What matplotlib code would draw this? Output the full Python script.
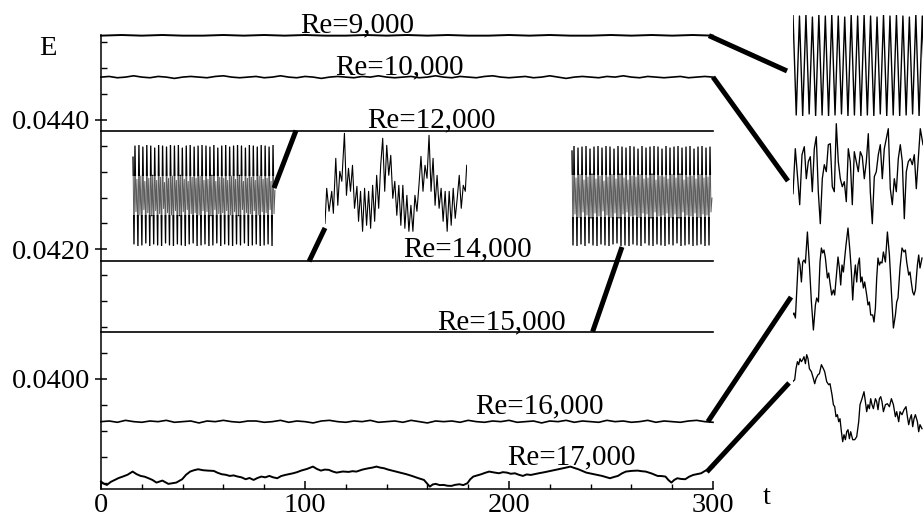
import numpy as np
import matplotlib
matplotlib.use("Agg")
import matplotlib.pyplot as plt
from matplotlib.patches import ConnectionPatch, Rectangle
from matplotlib.ticker import MultipleLocator, FormatStrFormatter

plt.rcParams['font.family'] = ['Liberation Serif', 'DejaVu Serif']

# ---------------- main time series (E vs t) ----------------
t_re9 = np.arange(0, 301, 10)
E_re9 = [0.04530, 0.04531, 0.04530, 0.04531, 0.04530, 0.04530, 0.04531, 0.04530, 0.04531, 0.04530,
         0.04531, 0.04530, 0.04530, 0.04531, 0.04530, 0.04531, 0.04530, 0.04531, 0.04530, 0.04530,
         0.04531, 0.04530, 0.04531, 0.04530, 0.04530, 0.04531, 0.04530, 0.04531, 0.04530, 0.04531, 0.04530]

t_re10 = np.arange(0, 301, 4)
E_re10 = [0.04466, 0.04467, 0.04465, 0.04466, 0.04468, 0.04466, 0.04465, 0.04467, 0.04466, 0.04464,
          0.04466, 0.04467, 0.04466, 0.04465, 0.04467, 0.04468, 0.04466, 0.04465, 0.04466, 0.04467,
          0.04465, 0.04466, 0.04468, 0.04466, 0.04465, 0.04467, 0.04466, 0.04464, 0.04466, 0.04467,
          0.04466, 0.04465, 0.04467, 0.04466, 0.04468, 0.04466, 0.04465, 0.04466, 0.04467, 0.04465,
          0.04466, 0.04468, 0.04466, 0.04465, 0.04467, 0.04466, 0.04465, 0.04467, 0.04468, 0.04466,
          0.04465, 0.04466, 0.04467, 0.04465, 0.04466, 0.04468, 0.04466, 0.04464, 0.04466, 0.04467,
          0.04466, 0.04465, 0.04467, 0.04466, 0.04468, 0.04466, 0.04465, 0.04467, 0.04466, 0.04465,
          0.04466, 0.04467, 0.04465, 0.04466, 0.04467, 0.04466]

t_flat = [0, 50, 100, 150, 200, 250, 300]
E_re12 = [0.043835, 0.043835, 0.043835, 0.043835, 0.043835, 0.043835, 0.043835]
E_re14 = [0.041815, 0.041815, 0.041815, 0.041815, 0.041815, 0.041815, 0.041815]
E_re15 = [0.040730, 0.040730, 0.040730, 0.040730, 0.040730, 0.040730, 0.040730]

t_re16 = np.arange(0, 301, 4)
E_re16 = [0.03934, 0.03935, 0.03933, 0.03936, 0.03934, 0.03933, 0.03935, 0.03934, 0.03936, 0.03933,
          0.03934, 0.03935, 0.03932, 0.03935, 0.03934, 0.03936, 0.03934, 0.03933, 0.03935, 0.03935,
          0.03933, 0.03934, 0.03936, 0.03933, 0.03935, 0.03934, 0.03932, 0.03935, 0.03936, 0.03934,
          0.03933, 0.03935, 0.03934, 0.03936, 0.03933, 0.03934, 0.03935, 0.03933, 0.03936, 0.03934,
          0.03932, 0.03935, 0.03934, 0.03935, 0.03933, 0.03936, 0.03934, 0.03933, 0.03935, 0.03934,
          0.03936, 0.03933, 0.03934, 0.03935, 0.03932, 0.03935, 0.03934, 0.03936, 0.03933, 0.03935,
          0.03934, 0.03933, 0.03936, 0.03934, 0.03935, 0.03933, 0.03934, 0.03936, 0.03933, 0.03935,
          0.03934, 0.03933, 0.03935, 0.03936, 0.03934, 0.03933]

t_re17 = [0, 1.5, 2.9, 4.8, 6.8, 8.7, 10.7, 13.0, 15.5, 17.4, 19.4, 21.4, 23.3, 25.2, 27.2, 30.1, 33.0,
          36.9, 39.8, 41.7, 43.7, 45.6, 47.6, 50.0, 52.4, 55.3, 57.2, 59.2, 61.1, 63.1, 65.0, 67.0, 68.9,
          70.9, 72.8, 74.8, 76.7, 78.6, 80.5, 82.5, 84.4, 86.4, 88.3, 90.3, 92.2, 94.2, 96.1, 98.1, 101.0,
          103.9, 105.8, 107.8, 109.7, 111.7, 113.6, 115.5, 118.5, 121.4, 123.3, 125.2, 128.2, 131.1, 133.0,
          135.0, 136.9, 138.8, 140.7, 142.7, 144.6, 146.6, 149.5, 152.4, 155.3, 158.3, 159.7, 161.2,
          162.6, 164.1, 166.0, 168.0, 169.9, 171.8, 173.7, 175.7, 177.6, 179.6, 181.0, 182.5, 184.4,
          186.4, 188.3, 190.3, 192.7, 195.1, 197.0, 199.0, 200.9, 202.9, 204.8, 206.8, 208.7, 210.7,
          212.6, 214.6, 217.5, 220.4, 222.3, 224.3, 227.2, 230.1, 232.0, 234.0, 235.9, 237.9, 239.8,
          241.7, 243.6, 245.6, 247.5, 249.5, 251.4, 253.4, 255.3, 257.3, 260.2, 263.1, 265.0, 267.0,
          269.9, 272.8, 274.7, 276.7, 278.1, 279.6, 281.0, 282.5, 284.4, 286.4, 288.3, 290.3, 292.2,
          294.2, 296.1, 298.1, 300]
E_re17 = [0.038415, 0.038380, 0.038363, 0.038410, 0.038440, 0.038470, 0.038492, 0.038520, 0.038569,
          0.038530, 0.038502, 0.038490, 0.038466, 0.038440, 0.038399, 0.038430, 0.038379, 0.038399,
          0.038451, 0.038520, 0.038569, 0.038590, 0.038605, 0.038590, 0.038584, 0.038579, 0.038550,
          0.038528, 0.038520, 0.038502, 0.038510, 0.038492, 0.038480, 0.038451, 0.038470, 0.038440,
          0.038470, 0.038492, 0.038480, 0.038502, 0.038480, 0.038466, 0.038500, 0.038517, 0.038530,
          0.038543, 0.038560, 0.038584, 0.038610, 0.038646, 0.038610, 0.038584, 0.038600, 0.038595,
          0.038570, 0.038553, 0.038570, 0.038564, 0.038575, 0.038569, 0.038600, 0.038620, 0.038630,
          0.038646, 0.038630, 0.038620, 0.038600, 0.038584, 0.038570, 0.038553, 0.038530, 0.038502,
          0.038470, 0.038440, 0.038390, 0.038337, 0.038370, 0.038379, 0.038360, 0.038363, 0.038350,
          0.038348, 0.038365, 0.038373, 0.038360, 0.038389, 0.038450, 0.038492, 0.038510, 0.038528,
          0.038550, 0.038569, 0.038555, 0.038543, 0.038560, 0.038553, 0.038535, 0.038543, 0.038520,
          0.038502, 0.038525, 0.038517, 0.038530, 0.038543, 0.038560, 0.038579, 0.038590, 0.038605,
          0.038625, 0.038646, 0.038625, 0.038605, 0.038580, 0.038553, 0.038540, 0.038528, 0.038515,
          0.038502, 0.038485, 0.038466, 0.038485, 0.038502, 0.038540, 0.038569, 0.038580, 0.038584,
          0.038575, 0.038569, 0.038540, 0.038502, 0.038500, 0.038492, 0.038440, 0.038399, 0.038440,
          0.038466, 0.038455, 0.038451, 0.038490, 0.038517, 0.038530, 0.038543, 0.038580, 0.038605,
          0.038636]

labels = ["Re=9,000", "Re=10,000", "Re=12,000", "Re=14,000", "Re=15,000", "Re=16,000", "Re=17,000"]
label_t = [97.5, 114.7, 130.4, 148.0, 164.7, 183.3, 199.0]
label_E = [0.04535, 0.044695, 0.043876, 0.041892, 0.040772, 0.03946, 0.038687]

xticks = [0, 100, 200, 300]
yticks = [0.0400, 0.0420, 0.0440]

# ---------------- zoomed-in signals (arbitrary units) ----------------
# Re=12,000 (left inset): per cycle trough, peak, lower-mid, upper-mid
startA = 88
peaksA = [99, 100, 98, 100, 99, 97, 100, 99, 98, 100, 99, 100, 97, 99, 100, 98, 99, 100, 99, 98,
          100, 97, 99, 100, 98, 99, 100, 99, 97, 100, 99, 98, 100, 99, 98, 100]
troughsA = [2, 0, 1, 3, 0, 2, 1, 0, 3, 1, 0, 2, 1, 0, 2, 3, 0, 1, 2, 0,
            1, 3, 0, 2, 1, 0, 2, 1, 3, 0, 1, 2, 0, 1, 2, 0]
midloA = [34, 31, 36, 33, 30, 35, 32, 37, 33, 31, 35, 30, 34, 36, 32, 33, 31, 35, 34, 30,
          36, 32, 33, 35, 31, 34, 30, 36, 33, 32, 35, 31, 34, 33, 36, 32]
midhiA = [66, 69, 64, 67, 70, 65, 68, 63, 67, 69, 65, 70, 66, 64, 68, 67, 69, 65, 66, 70,
          64, 68, 67, 65, 69, 66, 70, 64, 67, 68, 65, 69, 66, 67, 64, 55]

# Re=15,000 (right inset in the main panel)
startC = 95
peaksC = [100, 98, 99, 100, 97, 99, 100, 98, 100, 99, 97, 100, 99, 98, 100, 99, 97, 100, 98, 99,
          100, 99, 97, 100, 98, 99, 100, 98, 99, 100, 97, 99, 100, 98, 99]
troughsC = [1, 0, 2, 0, 3, 1, 0, 2, 1, 0, 2, 3, 0, 1, 0, 2, 1, 0, 3, 1,
            0, 2, 1, 0, 2, 1, 3, 0, 1, 2, 0, 1, 2, 0, 1]
midloC = [32, 29, 34, 31, 28, 33, 30, 35, 31, 29, 33, 28, 32, 34, 30, 31, 29, 33, 32, 28,
          34, 30, 31, 33, 29, 32, 28, 34, 31, 30, 33, 29, 32, 31, 34]
midhiC = [68, 71, 66, 69, 72, 67, 70, 65, 69, 71, 67, 72, 68, 66, 70, 69, 71, 67, 68, 72,
          66, 70, 69, 67, 71, 68, 72, 66, 69, 70, 67, 71, 68, 69, 48]

# Re=14,000 (middle inset)
tB = [0, 1.7, 4, 6.7, 8.3, 10.7, 12.7, 14.7, 16.7, 19.3, 21.3, 23.3, 25.3, 27.3, 29.3, 31.7, 33.3,
      35.3, 37.3, 39.3, 41.3, 43.3, 45.3, 47.3, 49.3, 51.3, 53.3, 55.3, 57.3, 59.3, 61.3, 63.3, 65.3,
      67.3, 69.3, 71.3, 73.3, 75.3, 77.3, 79.3, 81.3, 83.3, 85.3, 87.3, 89.3, 91.3, 93.3, 95.3, 97.3,
      99.3, 101.3, 103.3, 105.3, 107.3, 109.3, 111.3, 113.3, 115.3, 117.3, 119.3, 121.3, 123.3, 125.3,
      127.3, 129.3, 131.3, 133.3, 135.3, 137.3, 139.3, 140.7]
hB = [15, 50, 27, 47, 25, 80, 33, 67, 57, 105, 43, 70, 47, 73, 30, 52, 17, 47, 7, 50, 13, 47, 10, 53,
      17, 63, 30, 73, 100, 47, 93, 63, 83, 40, 57, 23, 53, 13, 53, 10, 43, 7, 33, 7, 43, 27, 53, 82,
      47, 73, 60, 103, 47, 80, 33, 63, 30, 50, 17, 47, 7, 47, 13, 50, 20, 40, 63, 30, 53, 47, 73]

# Re=9,000 (right column, top)
peaksR1 = [100, 99, 100, 98, 100, 99, 100, 99, 98, 100, 99, 100, 99, 98, 100, 99, 100, 99, 98, 100, 99, 100]
troughsR1 = [1, 0, 2, 0, 1, 0, 1, 2, 0, 1, 0, 1, 0, 2, 0, 1, 0, 1, 2, 0, 1, 0]

# Re=10,000 (right column)
tR2 = [0, 2.3, 4.7, 6.7, 9, 11.3, 13.3, 15.3, 17.3, 19.3, 21.3, 23.3, 25.3, 27.3, 29.3, 31.3, 33.3,
       35.3, 37.3, 39.3, 41.3, 43.3, 45.3, 47.3, 49.3, 51.3, 53.3, 55.3, 57.3, 59.3, 61.3, 63.3, 65.3,
       67.3, 69.3, 71.3, 73.3, 75.3, 77.3, 79.3, 81.3, 83.3, 85.3, 87.3, 89.3, 91.3, 93.3, 95.3, 97.3,
       99.3, 101.3, 103.3, 105.3, 107.3, 109.3, 111.3, 113.3, 115.3, 117.3, 119.3, 121.3, 123.3, 125.3,
       127.3, 130]
hR2 = [38, 83, 53, 27, 77, 85, 53, 70, 75, 40, 83, 95, 40, 8, 53, 67, 60, 87, 88, 45, 40, 108, 70,
       53, 45, 50, 30, 83, 70, 27, 80, 70, 60, 80, 75, 53, 70, 98, 40, 8, 55, 60, 77, 87, 53, 83, 93,
       103, 43, 27, 53, 40, 73, 87, 70, 13, 60, 70, 73, 67, 77, 43, 73, 103, 87]

# Re=16,000 (right column)
tR3 = [0, 1.3, 2.7, 4, 5.7, 7.3, 8.7, 10, 11.3, 12.7, 14.7, 16.7, 18.7, 20.7, 22.7, 24, 25.7, 27.3,
       28.7, 30, 31.3, 32.7, 34.7, 36, 37.3, 39, 40.7, 42, 44, 45.3, 46.7, 48, 49.3, 50.7, 52, 53.3,
       55.3, 57.3, 58.7, 60, 61.3, 62.7, 64, 65.3, 66.7, 68, 69.3, 70.7, 72, 74, 75.3, 76.7, 78, 80,
       81.3, 82.7, 84, 85.3, 86.7, 88, 89.3, 90.7, 92.7, 94.7, 96.7, 98.7, 100.7, 102.7, 104, 105.3,
       107.3, 109.3, 111.3, 112.7, 114, 116, 117.3, 118.7, 120, 121.3, 122.7, 124.7, 126, 127.3, 129.3]
hR3 = [20, 22, 17, 43, 77, 70, 53, 73, 75, 72, 103, 70, 33, 5, 30, 37, 33, 73, 87, 82, 85, 77, 57,
       62, 52, 40, 45, 40, 63, 78, 67, 50, 70, 63, 77, 90, 107, 83, 63, 35, 57, 70, 53, 70, 77, 53,
       58, 47, 53, 40, 30, 33, 20, 20, 13, 27, 57, 77, 70, 73, 72, 83, 73, 103, 80, 43, 7, 20, 33,
       37, 67, 87, 83, 85, 73, 60, 63, 52, 43, 40, 45, 70, 80, 67, 77]

# Re=17,000 (right column, bottom)
tR4 = [0, 2, 3.3, 4.7, 6, 7.3, 8.7, 10, 11.3, 12.7, 14, 15.3, 16.7, 18.7, 20.7, 22, 23.3, 25.3, 26.7,
       28.7, 30.7, 32, 34, 36, 37.3, 39.3, 40.7, 42, 43.3, 44.7, 46, 47.3, 48.7, 50, 51.3, 52.7, 54,
       55.3, 56.7, 58, 60, 62, 64, 66, 67.3, 69.3, 71.3, 72.7, 74, 75.3, 76.7, 78, 79.3, 80.7, 82.7,
       84, 85.3, 86.7, 88, 89.3, 90.7, 92.7, 94.7, 96.7, 98.7, 100.7, 102.7, 104, 106, 107.3, 109.3,
       111.3, 113.3, 114.7, 116, 117.3, 118.7, 120, 121.3, 122.7, 124.7, 126, 127.3, 129.3]
hR4 = [70, 72, 83, 90, 87, 93, 90, 92, 95, 88, 97, 93, 83, 80, 73, 68, 73, 77, 78, 87, 83, 80, 70,
       67, 68, 57, 47, 45, 35, 37, 30, 33, 20, 10, 17, 12, 20, 22, 13, 20, 12, 12, 15, 30, 47, 53,
       60, 50, 40, 47, 43, 53, 47, 43, 53, 50, 42, 53, 55, 50, 40, 47, 48, 45, 53, 47, 35, 40, 30,
       40, 37, 42, 45, 35, 27, 33, 37, 25, 33, 37, 30, 20, 27, 23]

# ---------------- figure ----------------
W, H = 923, 518
fig = plt.figure(figsize=(W / 100, H / 100), dpi=100)


def px_axes(x0, y0, x1, y1):
    return fig.add_axes([x0 / W, 1 - y1 / H, (x1 - x0) / W, (y1 - y0) / H])


ax = px_axes(101, 35, 713, 489)
ax.set_xlim(0, 300)
ax.set_ylim(0.03830, 0.04531)

lw_main = 1.2
ax.plot(t_re9, E_re9, color='k', lw=1.4, clip_on=False)
ax.plot(t_re10, E_re10, color='k', lw=lw_main, clip_on=False)
ax.plot(t_flat, E_re12, color='k', lw=lw_main, clip_on=False)
ax.plot(t_flat, E_re14, color='k', lw=lw_main, clip_on=False)
ax.plot(t_flat, E_re15, color='k', lw=lw_main, clip_on=False)
ax.plot(t_re16, E_re16, color='k', lw=lw_main, clip_on=False)
ax.plot(t_re17, E_re17, color='k', lw=1.4, clip_on=False)

for s, x, y in zip(labels, label_t, label_E):
    ax.text(x, y, s, fontsize=21, ha='left', va='baseline', clip_on=False)

for sp in ('top', 'right'):
    ax.spines[sp].set_visible(False)
for sp in ('left', 'bottom'):
    ax.spines[sp].set_linewidth(1.1)

ax.set_xticks(xticks)
ax.set_xticklabels([str(v) for v in xticks])
ax.xaxis.set_minor_locator(MultipleLocator(20))
ax.set_yticks(yticks)
ax.yaxis.set_major_formatter(FormatStrFormatter('%.4f'))
ax.yaxis.set_minor_locator(MultipleLocator(0.0004))
ax.tick_params(axis='x', which='major', direction='in', length=6, width=1.1, labelsize=20.5, pad=3.0)
ax.tick_params(axis='x', which='minor', direction='in', length=3.8, width=1.0)
ax.tick_params(axis='y', which='major', direction='inout', length=9, width=1.1, labelsize=20.5, pad=3)
ax.tick_params(axis='y', which='minor', direction='in', length=4.5, width=1.0)

ax.text(-0.087, 0.971, "E", transform=ax.transAxes, fontsize=20.5, ha='center', va='center')
ax.text(1.088, -0.018, "t", transform=ax.transAxes, fontsize=20.5, ha='center', va='center')


def bare(a):
    a.set_axis_off()
    a.patch.set_alpha(0)


def cycles(start, troughs, peaks, lo, hi):
    seq = [start]
    for tr, pk, l, h in zip(troughs, peaks, lo, hi):
        seq += [tr, pk, l, h]
    return seq


def banded(a, x, y, lo_frac, hi_frac):
    # dense oscillation: crisp black strokes outside the central band, grey inside it
    for y0, y1, col, lw in ((0, lo_frac, 'k', 0.95), (hi_frac, 1, 'k', 0.95),
                            (lo_frac, hi_frac, '#5c5c5c', 0.7)):
        ln, = a.plot(x, y, color=col, lw=lw)
        ln.set_clip_path(Rectangle((-0.05, y0), 1.1, y1 - y0, transform=a.transAxes))


# left inset (Re=12,000)
axA = px_axes(133, 145, 275, 246)
sigA = cycles(startA, troughsA, peaksA, midloA, midhiA)
axA.set_xlim(0, len(sigA) - 1)
axA.set_ylim(0, 100)
banded(axA, np.arange(len(sigA)), sigA, 0.31, 0.69)
bare(axA)

# middle inset (Re=14,000)
axB = px_axes(325, 128.3, 466.7, 238.3)
axB.plot(tB, hB, color='k', lw=0.8)
axB.set_xlim(0, 140.7)
axB.set_ylim(0, 110)
bare(axB)

# right inset (Re=15,000)
axC = px_axes(572, 146, 712, 246)
sigC = cycles(startC, troughsC, peaksC, midloC, midhiC)
axC.set_xlim(0, len(sigC) - 1)
axC.set_ylim(0, 100)
banded(axC, np.arange(len(sigC)), sigC, 0.29, 0.71)
bare(axC)

# right column
axR1 = px_axes(793, 15, 932, 116)
sigR1 = []
for pk, tr in zip(peaksR1, troughsR1):
    sigR1 += [pk, tr]
axR1.plot(np.arange(len(sigR1)), sigR1, color='k', lw=1.0)
axR1.set_xlim(0, 43)
axR1.set_ylim(0, 100)
bare(axR1)

axR2 = px_axes(793, 119.7, 933, 231.7)
axR2.plot(tR2, hR2, color='k', lw=0.95)
axR2.set_xlim(0, 140)
axR2.set_ylim(0, 112)
bare(axR2)

axR3 = px_axes(792.7, 225, 932.7, 335)
axR3.plot(tR3, hR3, color='k', lw=0.95)
axR3.set_xlim(0, 140)
axR3.set_ylim(0, 110)
bare(axR3)

axR4 = px_axes(792.7, 341.7, 932.7, 451.7)
axR4.plot(tR4, hR4, color='k', lw=0.95)
axR4.set_xlim(0, 140)
axR4.set_ylim(0, 110)
bare(axR4)

# connector bars from the curves to their zoomed views
links = [
    ((298, 0.04530), axR1, (-0.043, 0.446)),
    ((300, 0.04466), axR2, (-0.036, 0.453)),
    ((297.5, 0.03934), axR3, (-0.012, 0.345)),
    ((297, 0.038564), axR4, (-0.026, 0.625)),
    ((95.6, 0.043835), axA, (0.993, 0.574)),
    ((102, 0.041815), axB, (0.0, 0.094)),
    ((241, 0.04073), axC, (0.357, -0.01)),
]
for xyA, axi, xyB in links:
    cp = ConnectionPatch(xyA=xyA, coordsA=ax.transData, xyB=xyB, coordsB=axi.transAxes,
                         color='k', lw=3.6, capstyle='butt')
    cp.set_clip_on(False)
    fig.add_artist(cp)

fig.savefig("out.png", dpi=100)
